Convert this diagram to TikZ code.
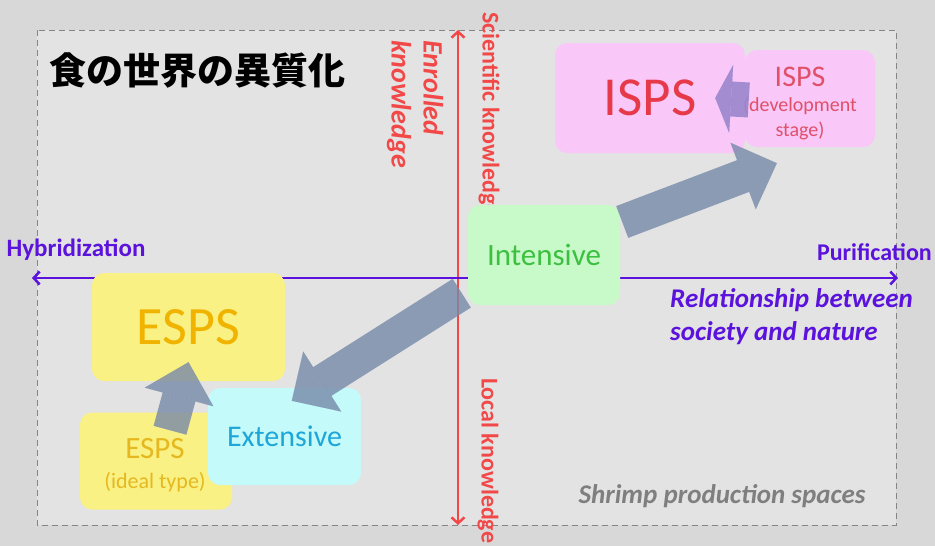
\documentclass[tikz,border=0pt]{standalone}
\usepackage{fontspec}
\setmainfont{Carlito}
\newfontfamily\cjk{Noto Sans CJK JP}
\usetikzlibrary{arrows.meta}

\definecolor{bgouter}{HTML}{D8D8D8}
\definecolor{bginner}{HTML}{E3E3E3}
\definecolor{framegray}{HTML}{858585}
\definecolor{axred}{HTML}{F24848}
\definecolor{axpurple}{HTML}{5A12DC}
\definecolor{ispsfill}{HTML}{F9C8F9}
\definecolor{ispstext}{HTML}{E63A4A}
\definecolor{devtext}{HTML}{E05068}
\definecolor{intfill}{HTML}{C8F9C8}
\definecolor{inttext}{HTML}{3CC040}
\definecolor{espsfill}{HTML}{F9F184}
\definecolor{espstext}{HTML}{F0B400}
\definecolor{idealtext}{HTML}{E6B820}
\definecolor{extfill}{HTML}{C4FAFA}
\definecolor{exttext}{HTML}{1EA6D8}
\definecolor{arrowgray}{HTML}{7789A9}
\definecolor{isparrow}{HTML}{9A86CC}
\definecolor{shrimptext}{HTML}{7F7F7F}

\tikzset{
  panel/.style={rounded corners=12pt, inner sep=0pt, align=center},
  bigarrow/.style={line width=34pt, draw=arrowgray, opacity=.8,
    -{Triangle[width=71pt,length=36pt,line width=.1pt]}},
  axisarrow/.style={line width=2.5pt, {Straight Barb[length=6pt,width=13pt]}-{Straight Barb[length=6pt,width=13pt]}},
  axislabel/.style={inner sep=0pt, text=axpurple, font=\bfseries\fontsize{25}{27}\selectfont},
  knowlabel/.style={rotate=-90, inner sep=0pt, text=axred, anchor=west}
}

\begin{document}
\begin{tikzpicture}[x=1pt, y=-1pt]
  % background and frame
  \fill[bgouter] (0,0) rectangle (935,546);
  \useasboundingbox (0,0) rectangle (935,546);
  \fill[bginner] (37,30) rectangle (896,525);
  \draw[framegray, line width=1pt, dash pattern=on 6pt off 4pt] (37,30) rectangle (896,525);

  \node[anchor=west, inner sep=0pt, font=\cjk\bfseries\fontsize{37}{37}\selectfont] (title) at (49,70.5) {食の世界の異質化};

  % knowledge axis
  \node[knowlabel, font=\bfseries\fontsize{24}{24}\selectfont] (sci) at (489,12) {Scientific knowledge};
  \node[knowlabel, font=\bfseries\fontsize{24}{24}\selectfont] (local) at (488,378) {Local knowledge};
  \node[knowlabel, align=left, font=\bfseries\itshape\fontsize{28}{32}\selectfont] (enrolled) at (415,40) {Enrolled\\knowledge};
  \coordinate (ytop) at (458,30);
  \coordinate (ybot) at (458,525);
  \draw[axisarrow, axred] (ybot) -- (ytop);

  % society and nature axis
  \node[axislabel] (hyb) at (76,250) {Hybridization};
  \node[axislabel, anchor=east, font=\bfseries\fontsize{24}{26}\selectfont] (pur) at (932,252) {Purification};
  \node[axislabel, anchor=base west, align=left, font=\bfseries\itshape\fontsize{27}{33}\selectfont] (rel) at (670,340) {Relationship between\\society and nature};
  \coordinate (xleft) at (32,278);
  \coordinate (xright) at (898,278);
  \draw[axisarrow, axpurple] (xleft) -- (xright);

  \node[inner sep=0pt, text=shrimptext, font=\bfseries\itshape\fontsize{27}{27}\selectfont] (shrimp) at (722,496) {Shrimp production spaces};

  % production spaces
  \node[panel, fill=espsfill, minimum width=193pt, minimum height=108pt, text=espstext, font=\fontsize{54}{54}\selectfont] (esps) at (188.5,327) {ESPS};
  \node[panel, fill=espsfill, minimum width=152pt, minimum height=97pt] (ideal) at (156,461) {};
  \node[panel, fill=extfill, minimum width=153pt, minimum height=97pt, text=exttext, font=\fontsize{30}{30}\selectfont] (extensive) at (284.5,436.5) {Extensive};
  \node[panel, anchor=base, text=idealtext, font=\fontsize{22}{30}\selectfont] (idealtext) at (155,488)
    {{\fontsize{31}{30}\selectfont ESPS}\\(ideal type)};
  \node[panel, fill=ispsfill, minimum width=190pt, minimum height=110pt, text=ispstext, font=\fontsize{55}{55}\selectfont] (isps) at (650,98) {ISPS};
  \node[panel, fill=ispsfill, minimum width=130pt, minimum height=97pt] (ispsdev) at (810,98.5) {};
  \node[panel, anchor=base, text=devtext, font=\fontsize{20}{25}\selectfont] (ispsdevtext) at (800,136)
    {{\fontsize{30}{28}\selectfont ISPS}\\(development\\stage)};
  \node[panel, fill=intfill, minimum width=152pt, minimum height=100pt, text=inttext, font=\fontsize{31}{31}\selectfont] (intensive) at (544,255) {Intensive};

  % shifts between spaces
  \draw[bigarrow] ([shift={(2,-33)}]intensive.east) -- ([shift={(32,16)}]ispsdev.south west);
  \draw[bigarrow] ([shift={(-6,-12)}]intensive.south west) -- ([shift={(84,13)}]extensive.north west);
  \draw[bigarrow] ([shift={(14,18)}]ideal.north) -- ([shift={(0,-19)}]esps.south);
  \draw[line width=35pt, draw=isparrow, opacity=.9, -{Triangle[width=68pt,length=16pt,line width=.1pt]}]
    ([shift={(4,1.5)}]ispsdev.west) -- ([shift={(-30,0)}]isps.east);
\end{tikzpicture}
\end{document}
